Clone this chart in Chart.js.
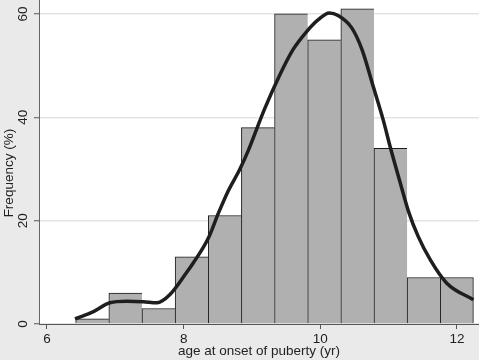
<!DOCTYPE html>
<html><head><meta charset="utf-8">
<style>html,body{margin:0;padding:0;background:#eaeaea}#wrap{width:479px;height:360px;position:relative}canvas{display:block}</style>
<script src="https://cdn.jsdelivr.net/npm/chart.js@4/dist/chart.umd.min.js"></script>
</head><body><div id="wrap"><canvas id="c" width="479" height="360"></canvas></div>
<script>
// Histogram bins (centres, width 0.485 yr) and bar heights
const binCenters = [6.6625, 7.1475, 7.6325, 8.1175, 8.6025, 9.0875, 9.5725, 10.0575, 10.5425, 11.0275, 11.5125, 11.9975];
const binCounts  = [1, 6, 3, 13, 21, 38, 60, 55, 61, 34, 9, 9];
// Smoothed density curve
const curveX = [6.41, 6.68, 6.92, 7.17, 7.41, 7.61, 7.80, 8.04, 8.14, 8.36, 8.51, 8.65, 8.82, 8.95, 9.18, 9.41, 9.60, 9.80, 9.97, 10.13, 10.26, 10.46, 10.61, 10.78, 10.92, 11.02, 11.17, 11.29, 11.43, 11.61, 11.85, 12.24];
const curveY = [1.0, 2.4, 4.1, 4.4, 4.3, 4.1, 5.7, 9.9, 11.8, 16.6, 21.5, 25.7, 29.9, 33.7, 41.5, 48.3, 53.1, 56.6, 58.9, 60.2, 59.7, 57.3, 53.1, 45.7, 39.5, 34.4, 27.3, 21.8, 17.0, 12.4, 7.9, 4.7];
const xTicks = [6, 8, 10, 12];
const yTicks = [0, 20, 40, 60];
const xTitle = 'age at onset of puberty (yr)';
const yTitle = 'Frequency (%)';

const FONT = '"Liberation Sans", Arial, Helvetica, sans-serif';
const lastBar = binCounts.length - 1;

const bgPlugin = {
  id: 'bg',
  beforeDraw(chart) {
    const {ctx, chartArea: a} = chart;
    ctx.save();
    ctx.fillStyle = '#eaeaea';
    ctx.fillRect(0, 0, chart.width, chart.height);
    ctx.fillStyle = '#ffffff';
    ctx.fillRect(a.left, a.top, a.right - a.left, a.bottom - a.top);
    ctx.restore();
  },
  afterDraw(chart) {
    const {ctx} = chart;
    const ys = chart.scales.y;
    ctx.save();
    ctx.font = '13.5px ' + FONT;
    ctx.fillStyle = '#222';
    ctx.textAlign = 'center';
    ctx.textBaseline = 'alphabetic';
    ys.ticks.forEach(t => {
      const py = ys.getPixelForValue(t.value);
      ctx.save();
      ctx.translate(27, py);
      ctx.rotate(-Math.PI / 2);
      ctx.fillText(String(t.value), 0, 0);
      ctx.restore();
    });
    // y-axis title, centred a little below the plot centre as in the reference
    ctx.save();
    ctx.translate(13, ys.getPixelForValue(29.2));
    ctx.rotate(-Math.PI / 2);
    ctx.fillText(yTitle, 0, 0);
    ctx.restore();
    ctx.restore();
  }
};

new Chart(document.getElementById('c'), {
  type: 'bar',
  data: {
    datasets: [
      {
        type: 'line',
        order: 0,
        data: curveX.map((x, i) => ({x, y: curveY[i]})),
        borderColor: '#1e1e1e',
        borderWidth: 3.5,
        pointRadius: 0,
        fill: false,
        cubicInterpolationMode: 'monotone'
      },
      {
        type: 'bar',
        order: 1,
        data: binCenters.map((x, i) => ({x, y: binCounts[i]})),
        backgroundColor: '#b0b0b0',
        borderColor: '#1a1a1a',
        borderSkipped: false,
        borderWidth: ctx => ({top: 1, left: 1, bottom: 0, right: ctx.dataIndex === lastBar ? 1 : 0}),
        barPercentage: 1,
        categoryPercentage: 1
      }
    ]
  },
  options: {
    responsive: false,
    animation: false,
    devicePixelRatio: 1,
    layout: {padding: 0},
    plugins: {legend: {display: false}, tooltip: {enabled: false}},
    scales: {
      x: {
        type: 'linear',
        min: 5.883,
        max: 12.322,
        offset: false,
        afterBuildTicks: s => { s.ticks = xTicks.map(v => ({value: v})); },
        afterFit: s => { s.height = 36; s.paddingLeft = 0; s.paddingRight = 0; s.paddingTop = 0; s.paddingBottom = 0; },
        grid: {drawOnChartArea: false, drawTicks: true, tickLength: 5, tickColor: '#555', offset: false},
        border: {display: true, color: '#555', width: 1},
        ticks: {font: {family: FONT, size: 13.5}, color: '#222', padding: 2, maxRotation: 0, minRotation: 0, callback: v => String(v)},
        title: {display: true, text: xTitle, font: {family: FONT, size: 13.5}, color: '#222', padding: {top: 0, bottom: 1}}
      },
      y: {
        type: 'linear',
        min: 0,
        max: 62.7,
        afterBuildTicks: s => { s.ticks = yTicks.map(v => ({value: v})); },
        afterFit: s => { s.width = 39; s.paddingTop = 0; s.paddingBottom = 0; s.paddingLeft = 0; s.paddingRight = 0; },
        grid: {color: '#e4e4e4', lineWidth: 1.5, drawTicks: true, tickLength: 5, tickColor: '#555', tickWidth: 1},
        border: {display: true, color: '#666', width: 1},
        ticks: {display: false},
        title: {display: false}
      }
    }
  },
  plugins: [bgPlugin]
});
</script>
</body></html>
